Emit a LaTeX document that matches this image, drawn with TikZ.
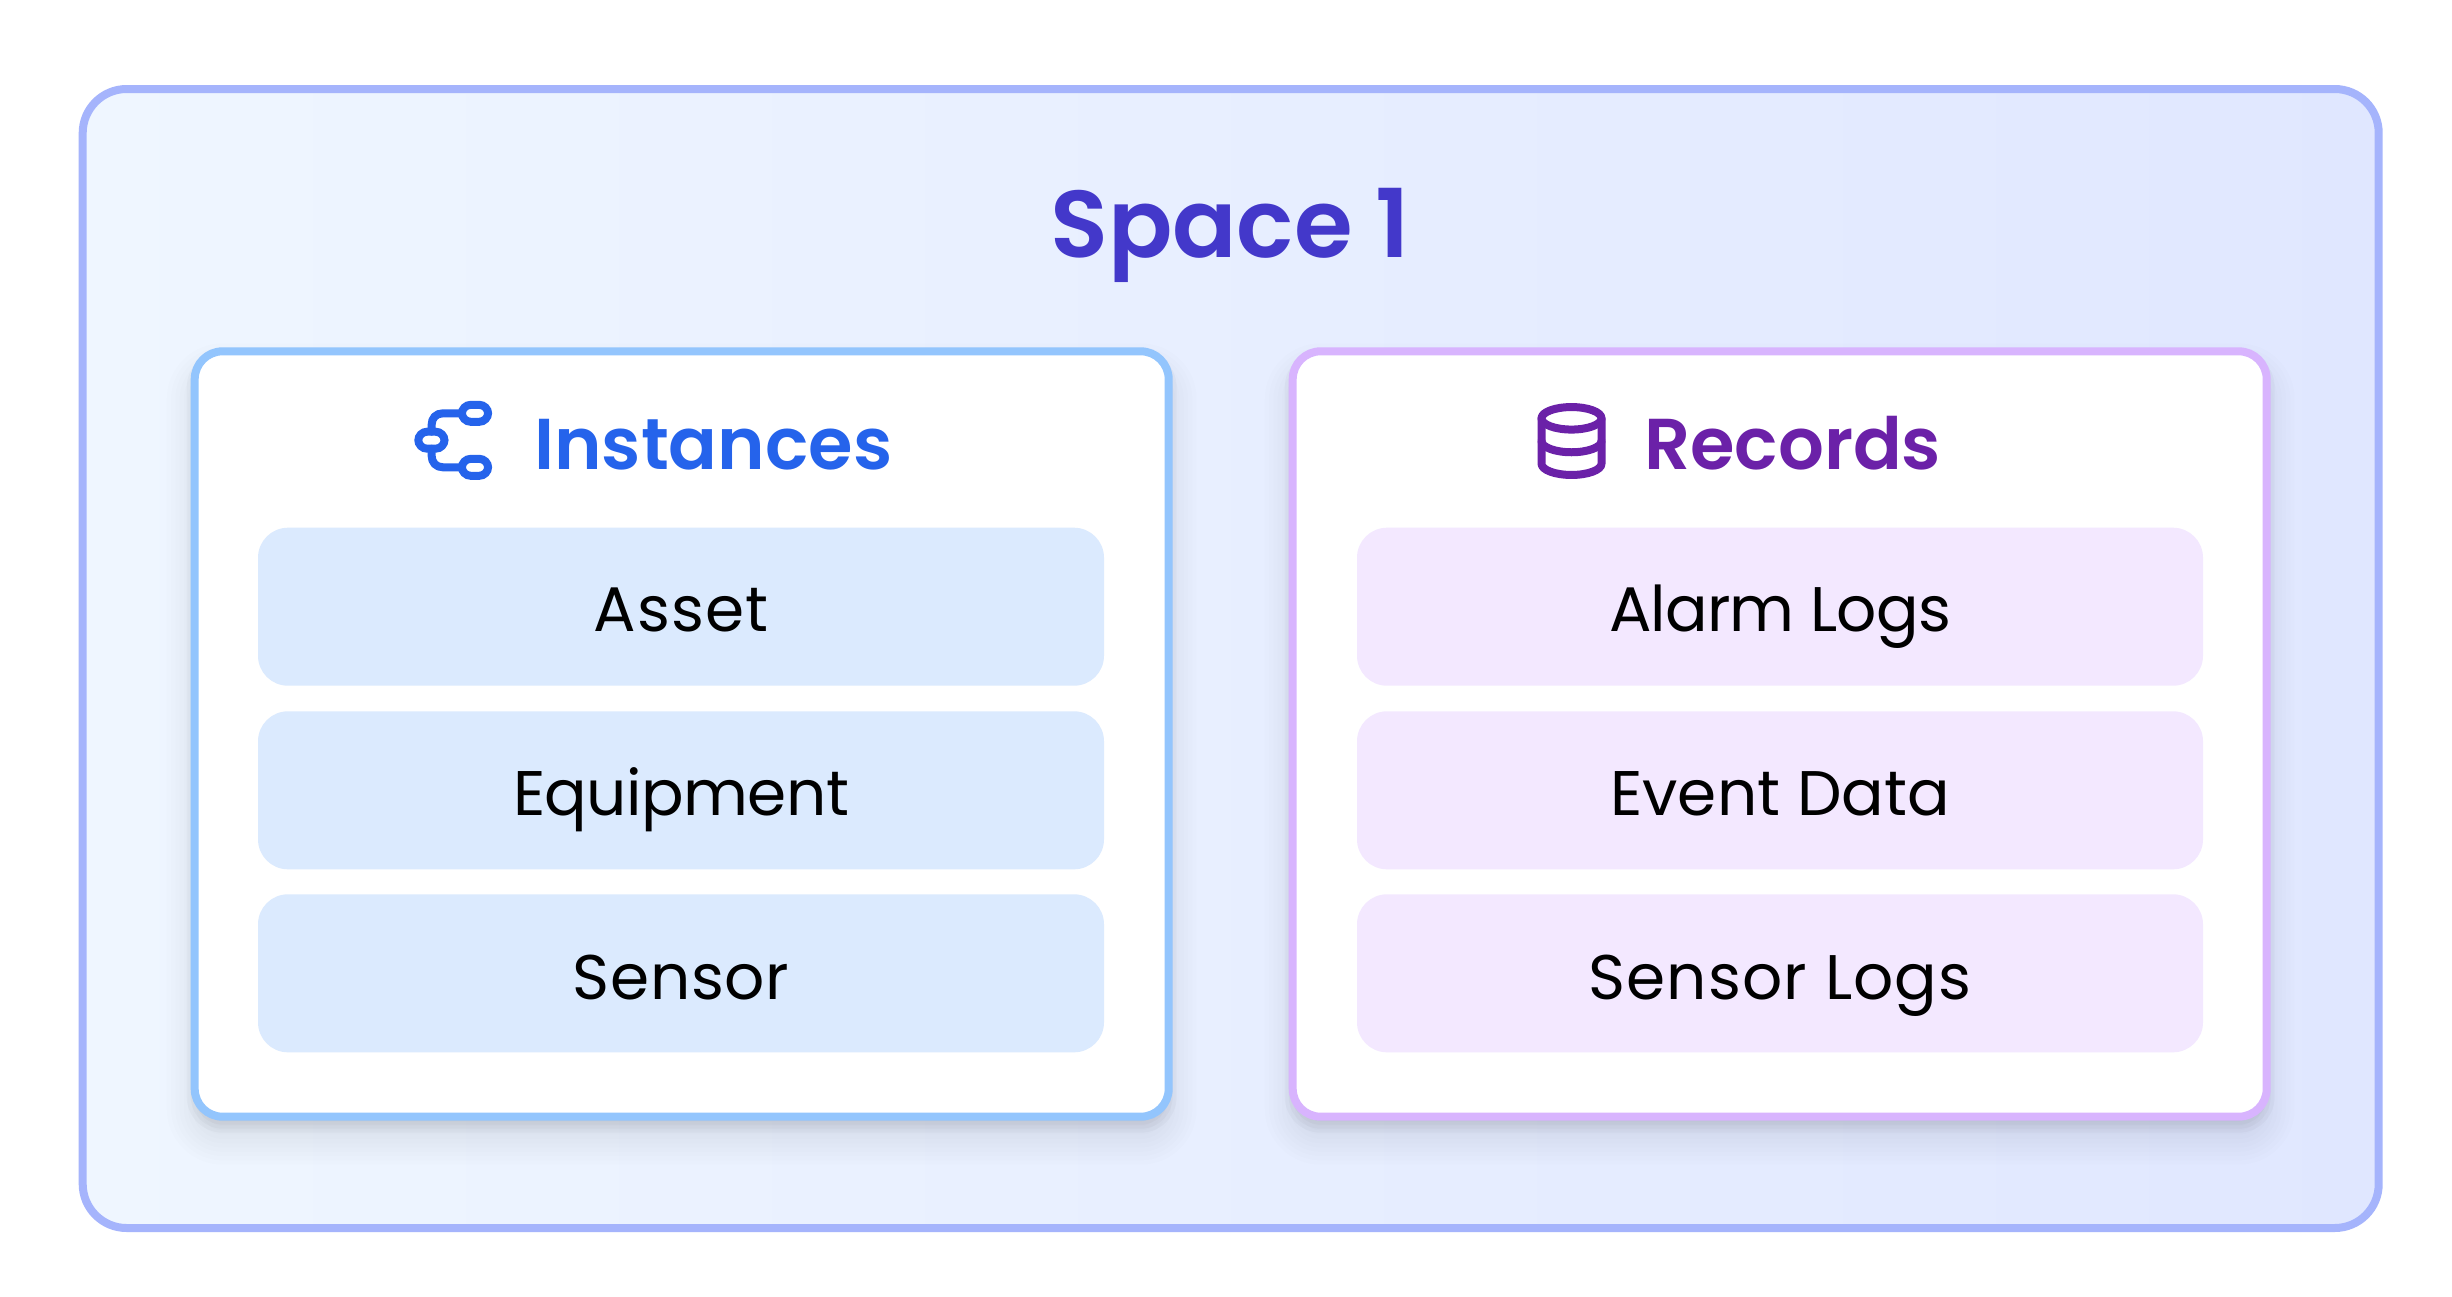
\documentclass[tikz,border=0pt]{standalone}
\usepackage{fontspec}
\setmainfont{Poppins}
\newfontfamily\headfont{Poppins SemiBold}
\definecolor{outerline}{HTML}{A5B4FC}
\definecolor{gradA}{HTML}{EFF6FF}
\definecolor{gradB}{HTML}{E0E7FF}
\definecolor{blueline}{HTML}{93C5FD}
\definecolor{bluefill}{HTML}{DBEAFE}
\definecolor{bluetext}{HTML}{2563EB}
\definecolor{purpleline}{HTML}{D8B4FE}
\definecolor{purplefill}{HTML}{F3E8FF}
\definecolor{purpletext}{HTML}{6B21A8}
\definecolor{titletext}{HTML}{4338CA}
\tikzset{
  x=1pt,y=-1pt,
  outerbox/.style={draw=outerline,line width=8pt,rounded corners=44pt,minimum width=2296pt,minimum height=1139pt,inner sep=0pt,outer sep=0pt},
  panelbox/.style={fill=white,line width=8pt,rounded corners=28pt,minimum width=974pt,minimum height=765.4pt,inner sep=0pt,outer sep=0pt},
  itembox/.style={rounded corners=30pt,minimum width=846pt,minimum height=158pt,inner sep=0pt,outer sep=0pt},
  itemlabel/.style={anchor=base,text=black,font=\fontsize{63}{63}\selectfont,inner sep=0pt},
  headlabel/.style={anchor=base west,font=\headfont\fontsize{72}{72}\selectfont,inner sep=0pt},
  titlelabel/.style={anchor=base,text=titletext,font=\headfont\fontsize{95}{95}\selectfont,inner sep=0pt},
  iconline/.style={line width=8pt,line cap=round,line join=round},
  pill/.style={draw,line width=8pt,fill=none,rounded corners=9pt,minimum width=26.3pt,minimum height=17pt,inner sep=0pt,outer sep=0pt},
}
\newcommand{\softlayer}[6]{% x1 y1 x2 y2 radius alpha
  \fill[black,fill opacity=#6,rounded corners=#5pt] (#1,#2) rectangle (#3,#4);}
\newcommand{\softshadow}[4]{%
  \foreach \k in {0,...,14}{%
    \pgfmathsetmacro{\e}{30-60*\k/14-6}%
    \pgfmathsetmacro{\r}{max(2,32+\e)}%
    \pgfmathsetmacro{\ax}{#1-\e}\pgfmathsetmacro{\ay}{#2-\e+20}%
    \pgfmathsetmacro{\bx}{#3+\e}\pgfmathsetmacro{\by}{#4+\e+20}%
    \softlayer{\ax}{\ay}{\bx}{\by}{\r}{0.0095}}%
  \foreach \k in {0,...,6}{%
    \pgfmathsetmacro{\e}{12-24*\k/6-8}%
    \pgfmathsetmacro{\r}{max(2,32+\e)}%
    \pgfmathsetmacro{\ax}{#1-\e}\pgfmathsetmacro{\ay}{#2-\e+8}%
    \pgfmathsetmacro{\bx}{#3+\e}\pgfmathsetmacro{\by}{#4+\e+8}%
    \softlayer{\ax}{\ay}{\bx}{\by}{\r}{0.025}}%
}
\newcommand{\spaced}[2]{{\addfontfeature{LetterSpace=#1}#2}}
\begin{document}
\begin{tikzpicture}
\useasboundingbox (0,0) rectangle (2452,1296);
\fill[white] (0,0) rectangle (2452,1296);
\begin{scope}
  \clip[rounded corners=44pt] (82.7,89) rectangle (2378.7,1228);
  \shade[left color=gradA,right color=gradB] (82.7,89) rectangle (2378.7,1228);
\end{scope}
\node[outerbox] (space) at (1230.7,658.5) {};
\node[titlelabel] (title) at (1230,257) {Space 1};
\softshadow{190.7}{347.3}{1172.7}{1120.7}
\softshadow{1288.7}{347.3}{2270.7}{1120.7}
\node[panelbox,draw=blueline] (instances) at (681.7,734) {};
\node[panelbox,draw=purpleline] (records) at (1779.7,734) {};
\node[itembox,fill=bluefill] (asset) at (681,606.7) {};
\node[itembox,fill=bluefill] (equipment) at (681,790.3) {};
\node[itembox,fill=bluefill] (sensor) at (681,973.3) {};
\node[itemlabel] (assetT) at (681,631.5) {\spaced{1.9}{Asset}};
\node[itemlabel] (equipmentT) at (681,815.5) {\spaced{-0.9}{Equipment}};
\node[itemlabel] (sensorT) at (681,999.5) {\spaced{1.0}{Sensor}};
\node[itembox,fill=purplefill] (alarm) at (1780,606.7) {};
\node[itembox,fill=purplefill] (event) at (1780,790.3) {};
\node[itembox,fill=purplefill] (logs) at (1780,973.3) {};
\node[itemlabel] (alarmT) at (1780,631.5) {\spaced{-1.4}{Alarm Logs}};
\node[itemlabel] (eventT) at (1780,815.5) {Event Data};
\node[itemlabel] (logsT) at (1780,999.5) {\spaced{1.7}{Sensor Logs}};
\node[headlabel,text=bluetext] (instT) at (534,469.2) {Instances};
\node[headlabel,text=purpletext] (recT) at (1644,469.2) {Records};
\begin{scope}[bluetext]
  \node[pill,bluetext] (p1) at (475,413.3) {};
  \node[pill,bluetext] (p2) at (431.4,440.2) {};
  \node[pill,bluetext] (p3) at (475,467.3) {};
  \draw[iconline] (p1.west) -- (443,413.3) .. controls (436,413.3) and (431.6,418) .. (431.6,425) -- (431.6,431.7);
  \draw[iconline] (431.6,448.7) -- (431.6,455.5) .. controls (431.6,462.5) and (436,467.3) .. (443,467.3) -- (p3.west);
\end{scope}
\begin{scope}[purpletext]
  \draw[iconline] (1571.5,418.3) ellipse [x radius=30pt,y radius=11.25pt];
  \draw[iconline] (1541.5,418.3) -- (1541.5,463.7) arc[start angle=180,end angle=360,x radius=30pt,y radius=11.25pt] -- (1601.5,418.3);
  \draw[iconline] (1541.5,441) arc[start angle=180,end angle=360,x radius=30pt,y radius=11.25pt];
\end{scope}
\end{tikzpicture}
\end{document}
